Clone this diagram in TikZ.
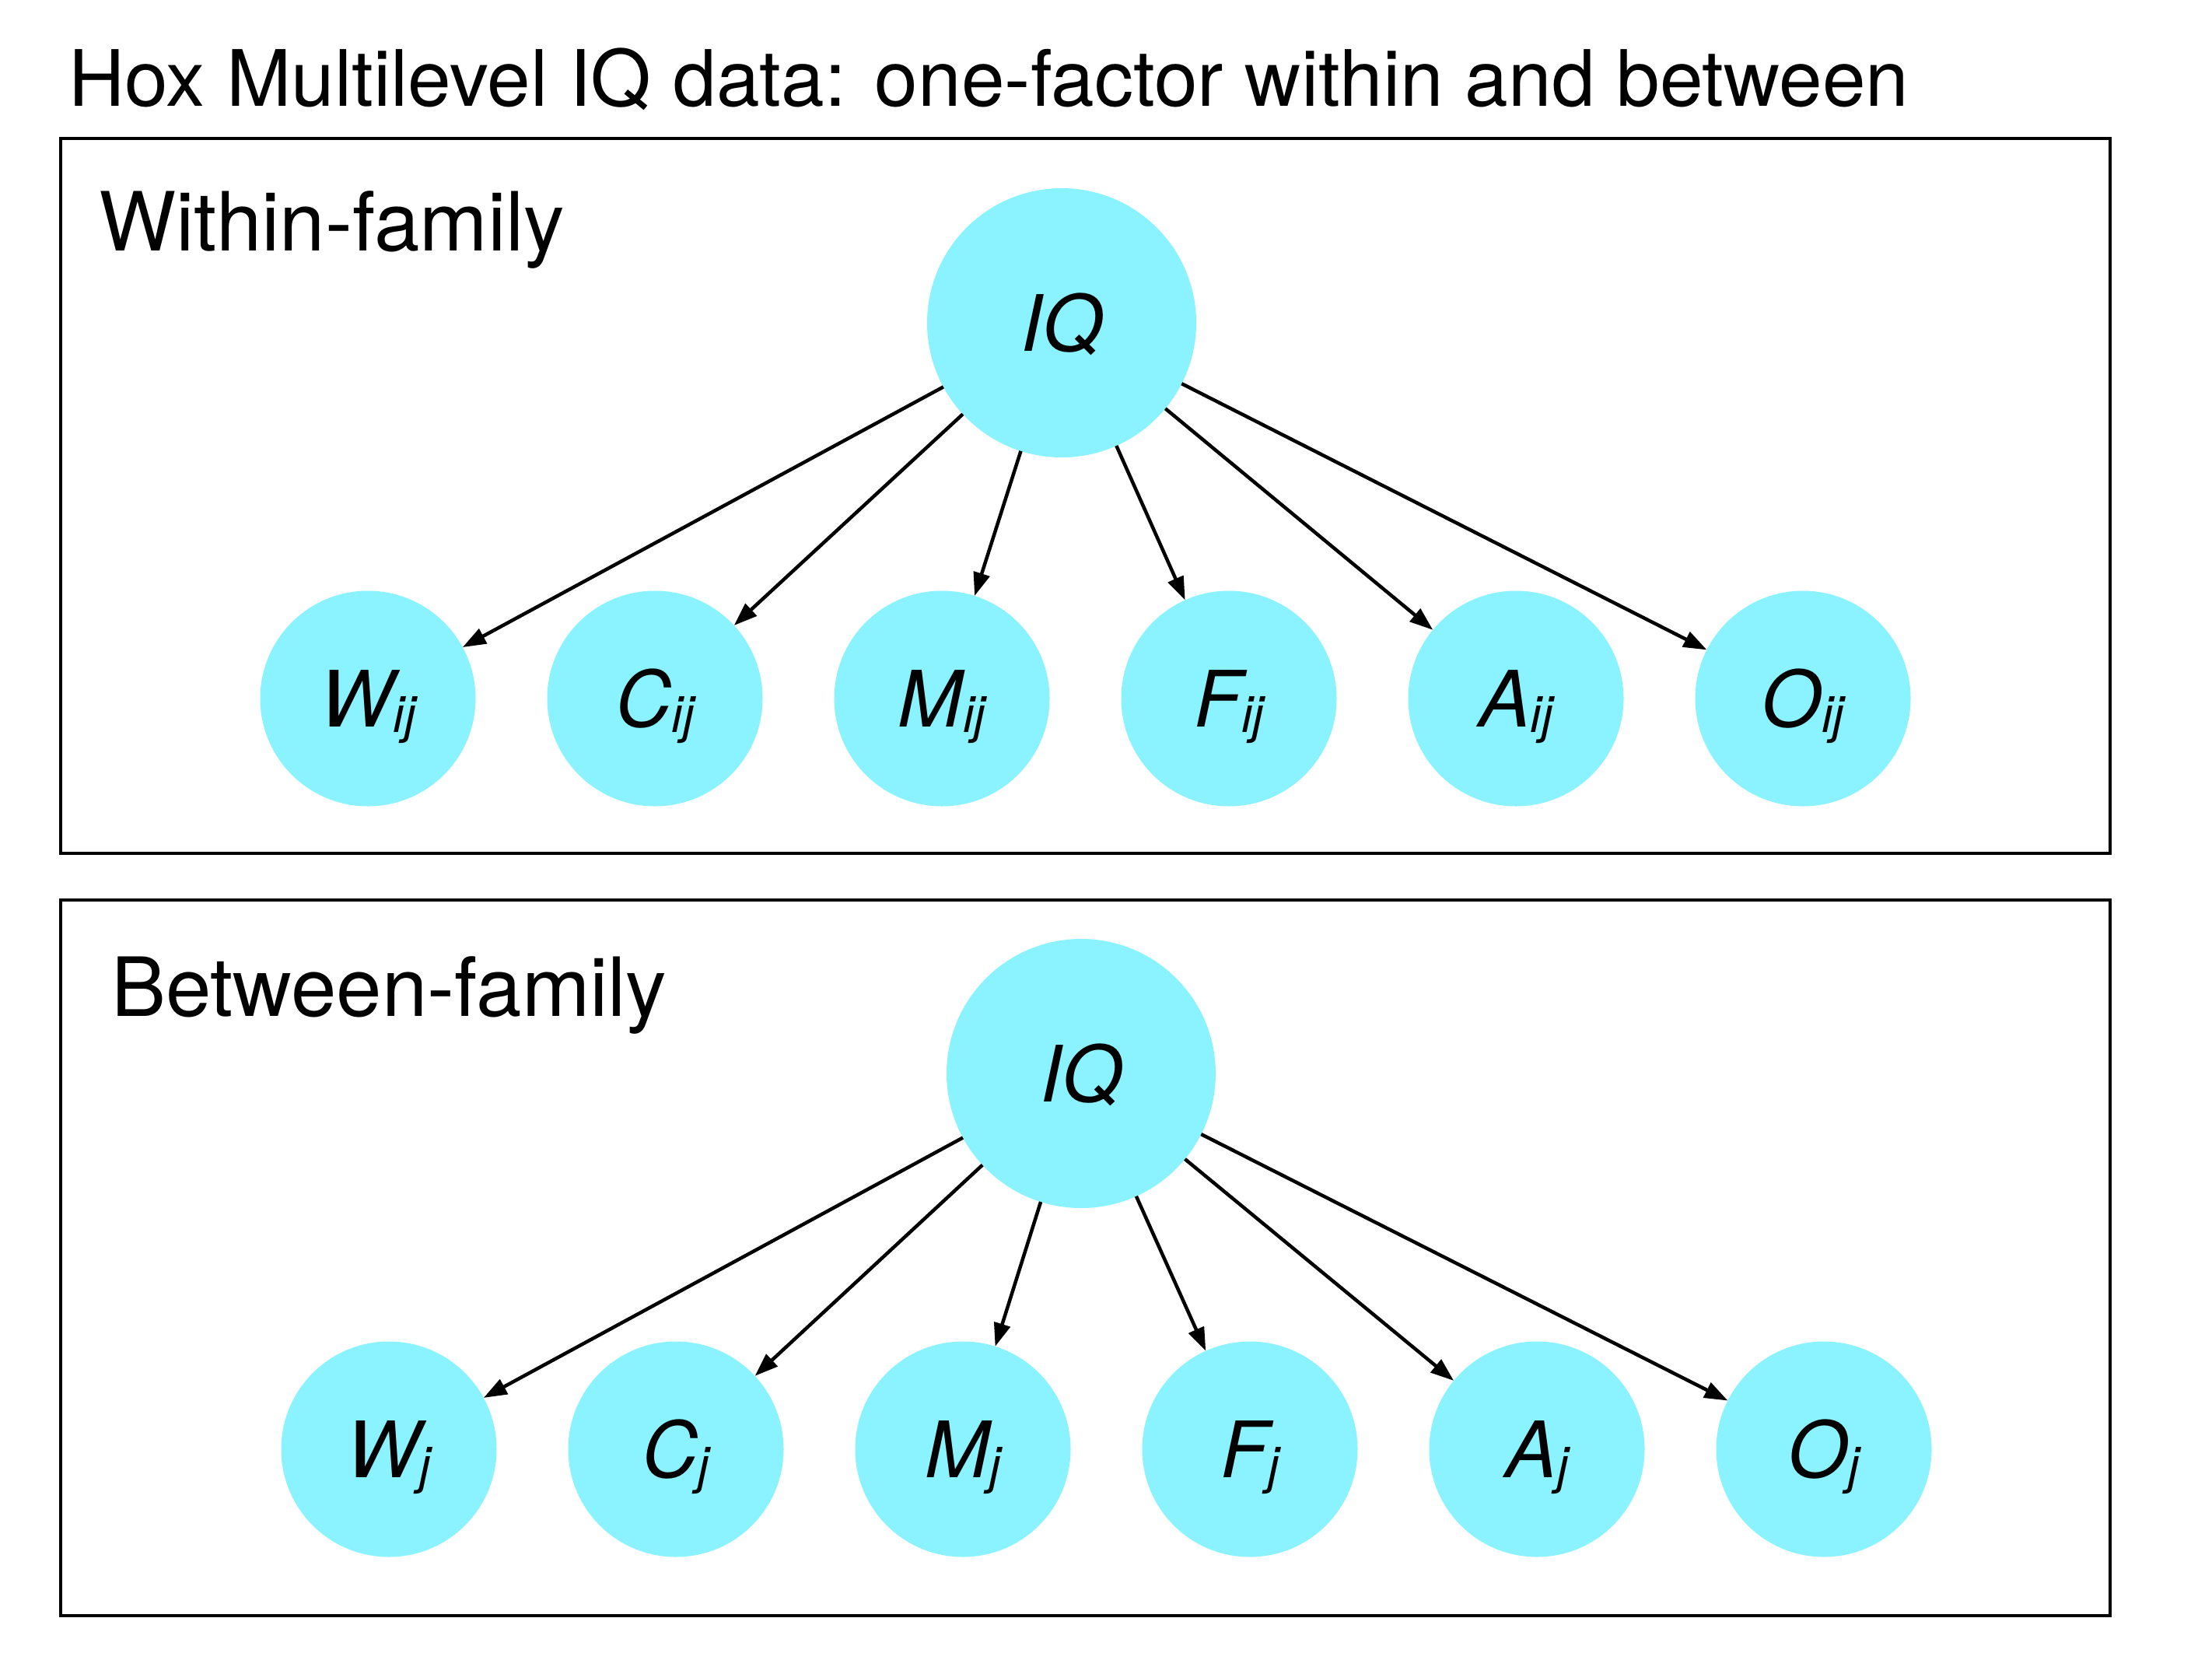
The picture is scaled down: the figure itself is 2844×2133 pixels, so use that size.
\documentclass[tikz,border=0pt]{standalone}
\usepackage{fontspec}
\setmainfont{TeX Gyre Heros}
\usetikzlibrary{arrows.meta}
\definecolor{nodecyan}{RGB}{138,243,255}
\newcommand{\sbs}[1]{\raisebox{-7pt}{\fontsize{65}{65}\selectfont #1}}
\begin{document}
\begin{tikzpicture}[x=1pt,y=-1pt,
  lab/.style={anchor=base west, inner sep=0pt, outer sep=0pt, font=\fontsize{100}{120}\selectfont},
  clab/.style={lab, font=\fontsize{105}{125}\selectfont},
  var/.style={circle, fill=nodecyan, inner sep=0pt, outer sep=0pt, text height=72pt, text depth=0pt, font=\fontsize{100}{120}\selectfont\itshape},
  big/.style={var, minimum size=346pt},
  small/.style={var, minimum size=277pt},
  edge/.style={line width=4.5pt, -{Triangle[length=30pt,width=21pt]}},
  frame/.style={line width=4.5pt}]
\useasboundingbox (0,0) rectangle (2844,2133);

\node[lab] (title) at (88,136) {Hox Multilevel IQ data: one-factor within and between};

% within cluster
\draw[frame] (78,178) rectangle (2713,1097);
\node[clab] (wlab) at (127,322) {Within-family};
\node[big] (iqw) at (1365,415) {IQ};
\node[small] (ww) at (473,898) {W\sbs{ij}};
\node[small] (cw) at (842,898) {C\sbs{ij}};
\node[small] (mw) at (1211,898) {M\sbs{ij}};
\node[small] (fw) at (1580,898) {F\sbs{ij}};
\node[small] (aw) at (1949,898) {A\sbs{ij}};
\node[small] (ow) at (2318,898) {O\sbs{ij}};
\foreach \t in {ww,cw,mw,fw,aw,ow} \draw[edge] (iqw) -- (\t);

% between cluster
\draw[frame] (78,1157) rectangle (2713,2077);
\node[clab] (blab) at (143,1306) {Between-family};
\node[big] (iqb) at (1390,1380) {IQ};
\node[small] (wb) at (500,1863) {W\sbs{j}};
\node[small] (cb) at (869,1863) {C\sbs{j}};
\node[small] (mb) at (1238,1863) {M\sbs{j}};
\node[small] (fb) at (1607,1863) {F\sbs{j}};
\node[small] (ab) at (1976,1863) {A\sbs{j}};
\node[small] (ob) at (2345,1863) {O\sbs{j}};
\foreach \t in {wb,cb,mb,fb,ab,ob} \draw[edge] (iqb) -- (\t);
\end{tikzpicture}
\end{document}
